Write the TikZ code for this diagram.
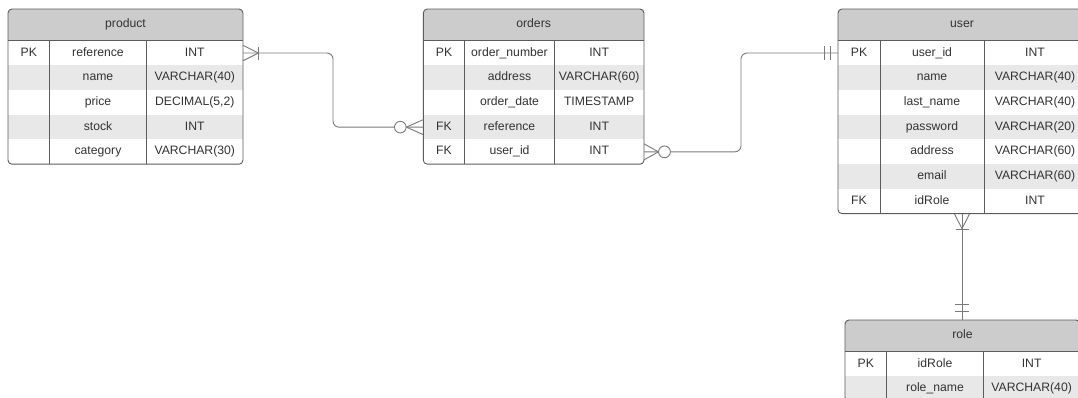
\documentclass[tikz,border=0pt]{standalone}
\usepackage{fontspec}
\setmainfont{Liberation Sans}
\usetikzlibrary{calc}
\definecolor{headfill}{HTML}{CCCCCC}
\definecolor{stripefill}{HTML}{E8E8E8}
\definecolor{linec}{HTML}{5C5C5C}
\definecolor{connc}{HTML}{7A7A7A}
\definecolor{txtc}{HTML}{333333}
\tikzset{
 tline/.style={draw=linec, line width=0.9pt},
 conn/.style={draw=connc, line width=0.9pt},
 txt/.style={text=txtc, font=\fontsize{12.2pt}{14pt}\selectfont, inner sep=0pt, text height=9pt, text depth=3pt},
 tabnode/.style={draw=none, inner sep=0pt, outer sep=0pt},
}
% #1 name, #2 left, #3 c1, #4 c2, #5 right, #6 top, #7 nrows, #8 title, #9 rows
\newcommand\ertable[9]{%
  \pgfmathsetmacro\hb{#6+31.7}%
  \pgfmathsetmacro\tb{\hb+#7*24.7}%
  \pgfmathsetmacro\tw{#5-#2}%
  \pgfmathsetmacro\th{\tb-#6}%
  \node[tabnode, minimum width=\tw pt, minimum height=\th pt, anchor=north west] (#1) at (#2,#6) {};
  \begin{scope}
    \clip[rounded corners=4] (#2,#6) rectangle (#5,\tb);
    \fill[headfill] (#2,#6) rectangle (#5,\hb);
    \node[txt] (#1-title) at ({(#2+#5)/2},{(#6+\hb)/2}) {#8};
    \foreach \k/\f/\t [count=\i] in {#9} {
      \pgfmathsetmacro\ya{\hb+(\i-1)*24.7}
      \pgfmathsetmacro\yb{\ya+24.7}
      \ifodd\i\else\fill[stripefill] (#2,\ya) rectangle (#5,\yb);\fi
      \node[tabnode, minimum width=\tw pt, minimum height=24.7pt, anchor=north west] (#1-r\i) at (#2,\ya) {};
      \node[txt] (#1-k\i) at ({(#2+#3)/2},{(\ya+\yb)/2}) {\k};
      \node[txt] (#1-f\i) at ({(#3+#4)/2},{(\ya+\yb)/2}) {\f};
      \node[txt] (#1-t\i) at ({(#4+#5)/2},{(\ya+\yb)/2}) {\t};
    }
  \end{scope}
  \draw[tline] (#2,\hb) -- (#5,\hb);
  \draw[tline] (#3,\hb) -- (#3,\tb);
  \draw[tline] (#4,\hb) -- (#4,\tb);
  \draw[tline, rounded corners=4] (#2,#6) rectangle (#5,\tb);
}
\begin{document}
\begin{tikzpicture}[x=1pt,y=-1pt]
\useasboundingbox (0,0) rectangle (1078,398);
\fill[white] (0,0) rectangle (1078,398);
\clip (0,0) rectangle (1078,398);

\ertable{product}{8}{49.5}{146.5}{243}{9}{5}{product}{PK/reference/INT, {}/name/VARCHAR(40), {}/price/{DECIMAL(5,2)}, {}/stock/INT, {}/category/VARCHAR(30)}
\ertable{orders}{423.3}{464.7}{554.3}{644}{9}{5}{orders}{PK/order\_number/INT, {}/address/VARCHAR(60), {}/order\_date/TIMESTAMP, FK/reference/INT, FK/user\_id/INT}
\ertable{user}{838}{880}{984}{1086}{9}{7}{user}{PK/user\_id/INT, {}/name/VARCHAR(40), {}/last\_name/VARCHAR(40), {}/password/VARCHAR(20), {}/address/VARCHAR(60), {}/email/VARCHAR(60), FK/idRole/INT}
\ertable{role}{845}{886.7}{983.3}{1080}{320}{2}{role}{PK/idRole/INT, {}/role\_name/VARCHAR(40)}

% product (1..n) -- orders (0..n)
\draw[conn, rounded corners=6] (product-r1.east) -- ++(90,0) |- (orders-r4.west);
\draw[conn] ($(product-r1.east)+(0,-7.7)$) -- ($(product-r1.east)+(15.4,0)$) -- ($(product-r1.east)+(0,7.7)$);
\draw[conn] ($(product-r1.east)+(15.4,-6.5)$) -- ($(product-r1.east)+(15.4,6.5)$);
\draw[conn] ($(orders-r4.west)+(0,-7.5)$) -- ($(orders-r4.west)+(-17,0)$) -- ($(orders-r4.west)+(0,7.5)$);
\draw[conn, fill=white] ($(orders-r4.west)+(-23,0)$) circle (5.8);

% orders (0..n) -- user (1)
\draw[conn, rounded corners=6] (orders-r5.east) -- ++(97,0) |- (user-r1.west);
\draw[conn] ($(orders-r5.east)+(0,-8)$) -- ($(orders-r5.east)+(14.5,0)$) -- ($(orders-r5.east)+(0,8)$);
\draw[conn, fill=white] ($(orders-r5.east)+(20.5,0)$) circle (5.9);
\draw[conn] ($(user-r1.west)+(-14,-7)$) -- ($(user-r1.west)+(-14,7)$);
\draw[conn] ($(user-r1.west)+(-7.3,-7)$) -- ($(user-r1.west)+(-7.3,7)$);

% user (1..n) -- role (1)
\draw[conn] (user.south) -- (user.south |- role.north);
\draw[conn] ($(user.south)+(-7.7,0)$) -- ($(user.south)+(0,15)$) -- ($(user.south)+(7.7,0)$);
\draw[conn] ($(user.south)+(-6.5,15.5)$) -- ($(user.south)+(6.5,15.5)$);
\draw[conn] ($(user.south |- role.north)+(-7,-16)$) -- ($(user.south |- role.north)+(7,-16)$);
\draw[conn] ($(user.south |- role.north)+(-7,-8.3)$) -- ($(user.south |- role.north)+(7,-8.3)$);
\end{tikzpicture}
\end{document}
